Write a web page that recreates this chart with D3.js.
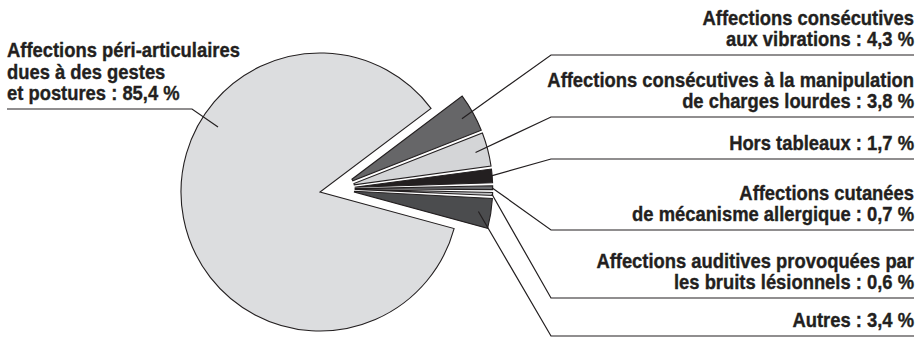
<!DOCTYPE html>
<html>
<head>
<meta charset="utf-8">
<script src="https://cdn.jsdelivr.net/npm/d3@7/dist/d3.min.js"></script>
<style>
  body { margin: 0; background: #fff; }
  text { font-family: 'Liberation Sans', Arial, sans-serif; font-weight: bold; fill: #231f20; stroke: #231f20; stroke-width: 0.35px; }
</style>
</head>
<body>
<div id="chart"></div>
<script>
// slices, clockwise from the top of the gap
const categories = ['vibrations', 'charges', 'hors', 'cutanees', 'auditives', 'autres', 'periArticulaires']
const values = [4.3, 3.8, 1.7, 0.7, 0.6, 3.4, 85.4]
const labelLines = [
  ['Affections consécutives', 'aux vibrations'],
  ['Affections consécutives à la manipulation', 'de charges lourdes'],
  ['Hors tableaux'],
  ['Affections cutanées', 'de mécanisme allergique'],
  ['Affections auditives provoquées par', 'les bruits lésionnels'],
  ['Autres'],
  ['Affections péri-articulaires', 'dues à des gestes', 'et postures']
]
const colors = ['#666668', '#d4d5d7', '#231f20', '#6d6e71', '#bdbec0', '#4b4c4e', '#dcdddf']

class ExplodedPie {
  defaultSetting () {
    return {
      width: 924,
      height: 338,
      cx: 320,
      cy: 192,
      radius: 139,
      // small slices: moved out as a ring segment
      groupExplode: 17,
      innerR: 18,
      outerR: 156,
      gap: 3,
      startDeg: 53,
      stroke: '#231f20',
      fontSize: 19.5,
      lineHeight: 21.7,
      // label rows on the right, underline y for each
      rightX: 914,
      elbowX: 551,
      underY: [55, 117, 159, 230, 298, 336],
      // big slice label on the left
      leftX: 7,
      leftElbowX: 192,
      leftUnderY: 109,
      leftAnchorDeg: 302.5,
      leftAnchorK: 0.87,
      targetWidth: 367
    }
  }

  constructor (selector, opt) {
    this.config = Object.assign({}, this.defaultSetting(), opt)
    const { width, height } = this.config
    this.svg = d3.select(selector).append('svg')
      .attr('width', width)
      .attr('height', height)
    this.slicesG = this.svg.append('g')
    this.linesG = this.svg.append('g')
    this.textsG = this.svg.append('g')
  }

  render () {
    const c = this.config
    const rad = Math.PI / 180
    const data = categories.map((k, i) => ({ key: k, value: values[i], lines: labelLines[i], color: colors[i] }))
    const pie = d3.pie().sort(null).value(d => d.value)
      .startAngle(c.startDeg * rad)
      .endAngle(c.startDeg * rad + 2 * Math.PI)
    const arcs = pie(data)
    const big = arcs.length - 1

    const bigArc = d3.arc().innerRadius(0).outerRadius(c.radius)
    const smallArc = d3.arc()
      .innerRadius(c.innerR)
      .outerRadius(c.outerR)
      .padAngle(c.gap / Math.hypot(c.innerR, c.outerR))

    // group origin for the small slices
    const groupMid = (arcs[0].startAngle + arcs[big - 1].endAngle) / 2
    const gx = c.cx + c.groupExplode * Math.sin(groupMid)
    const gy = c.cy - c.groupExplode * Math.cos(groupMid)
    arcs.forEach((d, i) => {
      d.mid = (d.startAngle + d.endAngle) / 2
      d.ox = i === big ? c.cx : gx
      d.oy = i === big ? c.cy : gy
      d.r = i === big ? c.radius : c.outerR
    })

    this.slicesG.selectAll('path')
      .data(arcs)
      .enter()
      .append('path')
      .attr('d', (d, i) => i === big ? bigArc(d) : smallArc(d))
      .attr('transform', d => `translate(${d.ox}, ${d.oy})`)
      .attr('fill', d => d.data.color)
      .attr('stroke', c.stroke)
      .attr('stroke-width', 1.1)

    // leader lines
    const leaders = arcs.map((d, i) => {
      let ang = d.mid
      let k = (d.endAngle - d.startAngle) < 8 * rad ? 0.995 : 0.92
      if (i === big) {
        ang = c.leftAnchorDeg * rad
        k = c.leftAnchorK
      }
      const ax = d.ox + k * d.r * Math.sin(ang)
      const ay = d.oy - k * d.r * Math.cos(ang)
      if (i === big) {
        return [[ax, ay], [c.leftElbowX, c.leftUnderY], [c.leftX, c.leftUnderY]]
      }
      return [[ax, ay], [c.elbowX, c.underY[i]], [c.rightX, c.underY[i]]]
    })
    this.linesG.selectAll('path')
      .data(leaders)
      .enter()
      .append('path')
      .attr('d', d3.line())
      .attr('fill', 'none')
      .attr('stroke', c.stroke)
      .attr('stroke-width', 1.2)

    this.renderText(arcs)
  }

  renderText (arcs) {
    const c = this.config
    const big = arcs.length - 1
    const fmt = v => `${v.toFixed(1).replace('.', ',')} %`

    // measure once to fit the condensed look
    const probe = this.textsG.append('text')
      .attr('font-size', c.fontSize)
      .text(labelLines[1][0])
    const sx = c.targetWidth / probe.node().getComputedTextLength()
    probe.remove()

    arcs.forEach((d, i) => {
      const lines = d.data.lines.slice()
      lines[lines.length - 1] += ' : ' + fmt(d.data.value)
      const isLeft = i === big
      const x = isLeft ? c.leftX : c.rightX
      const lastBase = (isLeft ? c.leftUnderY : c.underY[i]) - 8.5
      const g = this.textsG.append('g')
        .attr('transform', `translate(${x}, 0) scale(${sx}, 1)`)
      g.selectAll('text')
        .data(lines)
        .enter()
        .append('text')
        .attr('x', 0)
        .attr('y', (t, j) => lastBase - (lines.length - 1 - j) * c.lineHeight)
        .attr('text-anchor', isLeft ? 'start' : 'end')
        .attr('font-size', c.fontSize)
        .text(t => t)
    })
  }
}

const chart = new ExplodedPie('#chart')
chart.render()
</script>
</body>
</html>
